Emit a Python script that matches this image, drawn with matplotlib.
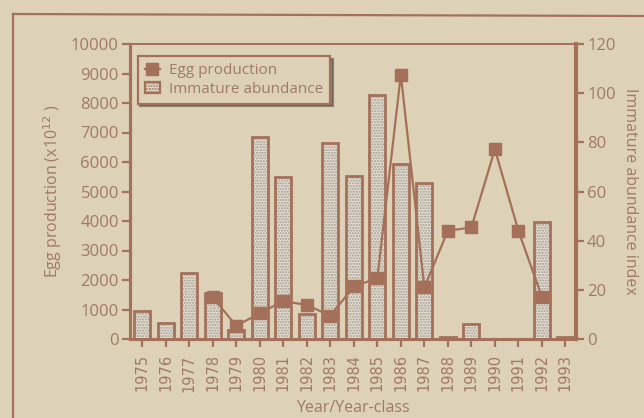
import matplotlib
matplotlib.use("Agg")
import matplotlib.pyplot as plt
from matplotlib.lines import Line2D
from matplotlib.patches import Patch
import numpy as np

years = ["1975", "1976", "1977", "1978", "1979", "1980", "1981", "1982", "1983",
         "1984", "1985", "1986", "1987", "1988", "1989", "1990", "1991", "1992", "1993"]

# Immature abundance index (right axis)
immature = [11.4, 6.4, 26.8, 18.7, 3.6, 82.0, 65.9, 10.2, 79.7,
            66.4, 99.1, 71.2, 63.6, 1.0, 6.0, 0.0, 0.0, 47.4, 1.0]

# Egg production (x10^12, left axis), available from 1978 to 1992
egg_years = ["1978", "1979", "1980", "1981", "1982", "1983", "1984", "1985",
             "1986", "1987", "1988", "1989", "1990", "1991", "1992"]
egg_production = [1410, 450, 870, 1290, 1150, 790, 1780, 2060,
                  8960, 1750, 3670, 3780, 6430, 3670, 1425]

bg = "#ddd1b8"
brown = "#a4705a"
text_col = "#a07a66"
stipple = "#a09c96"
bar_fill = "#e4dccd"

plt.rcParams["font.family"] = ["Open Sans", "DejaVu Sans"]

fig = plt.figure(figsize=(6.44, 4.18), dpi=100, facecolor=bg)
ax = fig.add_axes([130 / 644, 1 - 339 / 418, 446 / 644, 295 / 418])
ax.set_facecolor(bg)
ax2 = ax.twinx()

x = np.arange(len(years))
egg_x = [years.index(y) for y in egg_years]

# stippled bars: dotted fill first, then the outline on top
ax2.bar(x, immature, width=0.68, color=bar_fill, edgecolor=stipple,
        linewidth=0, hatch="......", zorder=1)
ax2.bar(x, immature, width=0.68, facecolor="none", edgecolor=brown,
        linewidth=2.0, zorder=2)
ax2.set_ylim(0, 120)
ax2.set_yticks(range(0, 121, 20))

# egg production line on its own layer above the bars
ax3 = ax.twinx()
ax3.plot(egg_x, egg_production, color=brown, linewidth=1.6, marker="s",
         markersize=8, markerfacecolor=brown, markeredgecolor=brown, zorder=3)
ax3.set_ylim(0, 10000)
ax3.axis("off")

ax.set_ylim(0, 10000)
ax.set_yticks(range(0, 10001, 1000))
ax.set_xlim(-0.52, 18.45)
ax.set_xticks(x)
ax.set_xticklabels(years, rotation=90, family="DejaVu Sans")

for a in (ax, ax2):
    for s in a.spines.values():
        s.set_color(brown)
        s.set_linewidth(2.2)
ax.spines["top"].set_linewidth(1.4)
ax2.spines["top"].set_linewidth(1.4)
ax2.spines["right"].set_linewidth(3.0)

ax.tick_params(axis="y", colors=brown, labelcolor=text_col, labelsize=12,
               length=6, width=1.6, direction="out", pad=2)
ax.tick_params(axis="x", colors=brown, labelcolor=text_col, labelsize=10.5,
               length=6, width=1.6, direction="out", pad=5)
ax2.tick_params(axis="y", colors=brown, labelcolor=text_col, labelsize=12,
                length=6, width=1.6, direction="out", pad=2)

ax.set_ylabel("Egg production (x10$^{12}$ )", color=text_col, fontsize=11.5, labelpad=5)
ax2.set_ylabel("Immature abundance index", color=text_col, fontsize=11.5,
               rotation=-90, labelpad=16)
ax.set_xlabel("Year/Year-class", color=text_col, fontsize=11.5, labelpad=6)

handles = [
    Line2D([0], [0], color=brown, marker="s", markersize=8, linestyle="-",
           linewidth=1.6, markerfacecolor=brown),
    Patch(facecolor=bar_fill, edgecolor=brown, hatch="......", linewidth=1.6),
]
leg = ax2.legend(handles, ["Egg production", "Immature abundance"],
                 loc="upper left", bbox_to_anchor=(0.0, 0.985), frameon=True,
                 fancybox=False, shadow=True, fontsize=11, handlelength=1.0,
                 handletextpad=0.6, borderpad=0.45, labelspacing=0.25)
leg.get_frame().set_edgecolor(brown)
leg.get_frame().set_facecolor(bg)
leg.get_frame().set_linewidth(1.6)
for t in leg.get_texts():
    t.set_color(text_col)

# outer frame around the figure panel
fig.add_artist(Line2D([13 / 644, 1.0], [1 - 14 / 418, 1 - 16 / 418],
                      transform=fig.transFigure, color=brown, linewidth=1.6))
fig.add_artist(Line2D([13 / 644, 13 / 644], [1 - 14 / 418, 0.0],
                      transform=fig.transFigure, color=brown, linewidth=1.6))

fig.savefig("out.png", dpi=100, facecolor=bg)
